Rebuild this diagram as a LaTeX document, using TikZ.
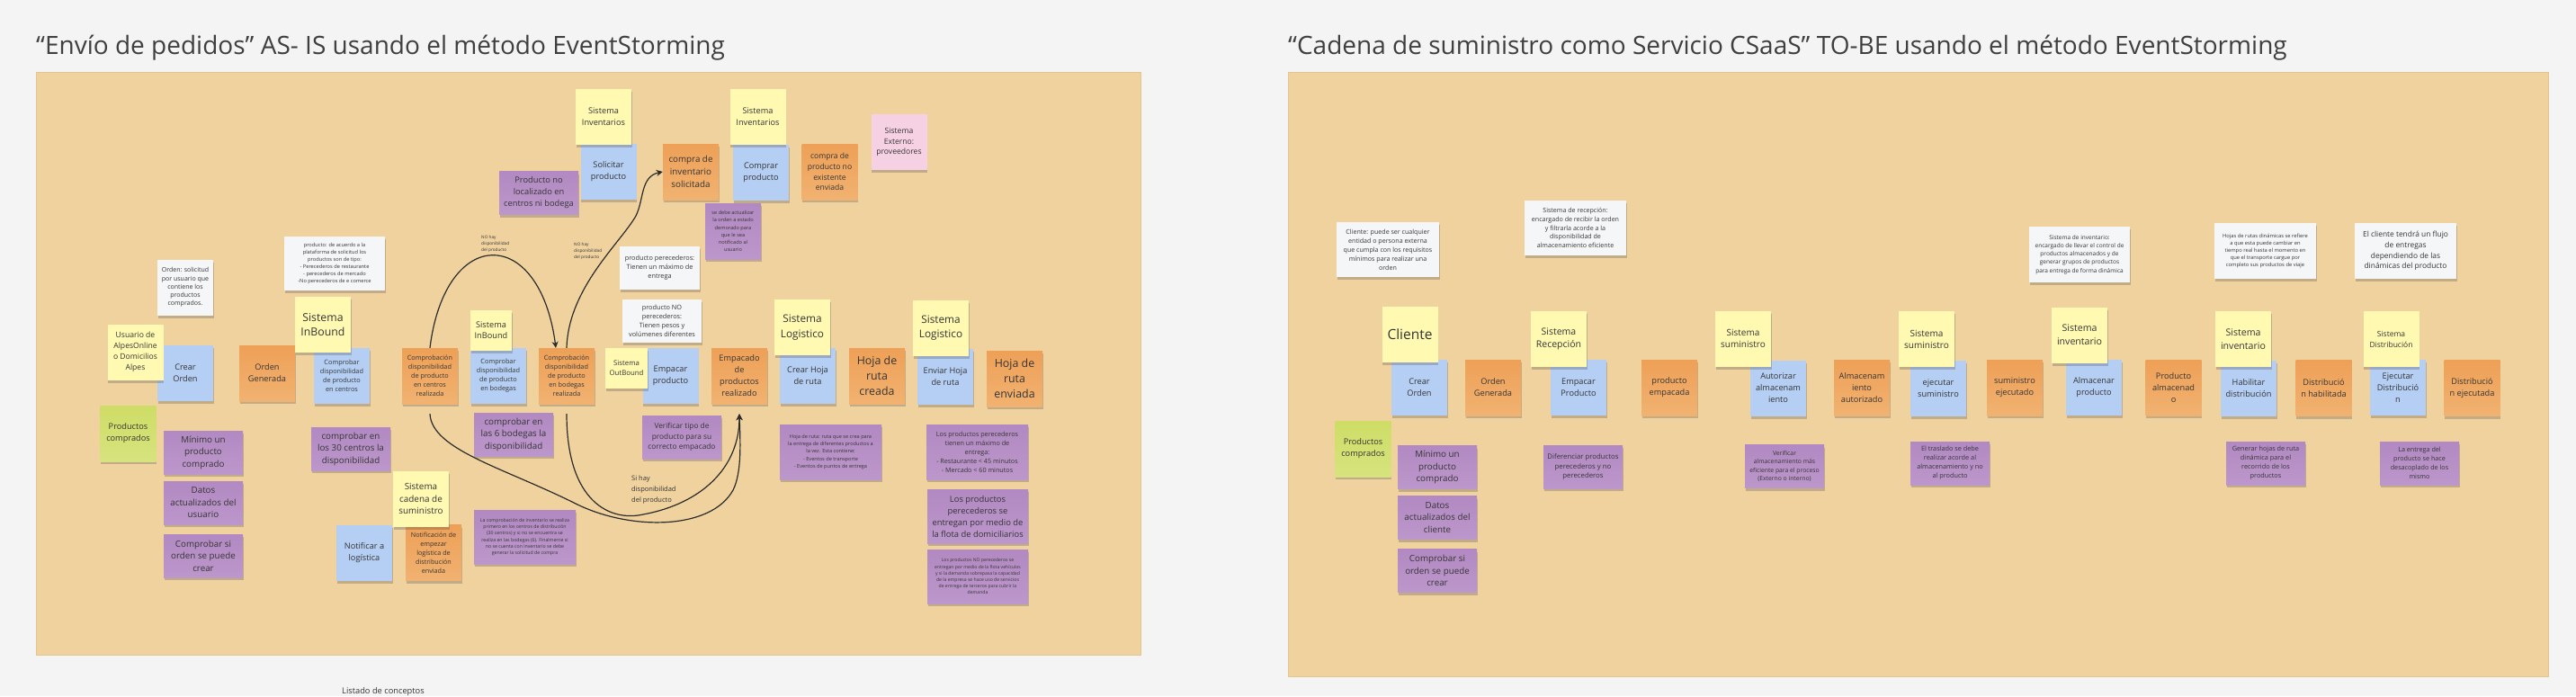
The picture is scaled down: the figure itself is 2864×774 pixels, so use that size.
\documentclass[tikz,border=0pt]{standalone}
\usepackage{fontspec}
\setmainfont{Open Sans}
\usetikzlibrary{arrows.meta,shadows}

\definecolor{cOuter}{HTML}{F4F4F4}
\definecolor{cPanel}{HTML}{F0D29F}
\definecolor{cPanelLine}{HTML}{E3C58F}
\definecolor{cYel}{HTML}{FFF9B2}
\definecolor{cBlu}{HTML}{B5CEF3}
\definecolor{cOraT}{HTML}{EEA057}
\definecolor{cOraB}{HTML}{F1B271}
\definecolor{cPurT}{HTML}{B289C2}
\definecolor{cPurB}{HTML}{BC97CB}
\definecolor{cGrnT}{HTML}{CEDD66}
\definecolor{cGrnB}{HTML}{D7E37E}
\definecolor{cWht}{HTML}{F5F6F8}
\definecolor{cPnk}{HTML}{F6D1E3}
\definecolor{cText}{HTML}{353535}
\definecolor{cTitle}{HTML}{3F3F3F}
\definecolor{cArrow}{HTML}{2B2B2B}

\newcommand{\fsz}[2]{\fontsize{#1}{#2}\selectfont}

\begin{document}
\begin{tikzpicture}
        [x=1pt, y=-1pt,
        note/.style={rectangle, inner sep=1pt, align=center, text=cText,
                minimum width=62pt, minimum height=62pt, font=\fsz{9.2}{13},
                drop shadow={shadow xshift=0.8pt, shadow yshift=-3pt, opacity=0.28, fill=black!70}},
        wide/.style={minimum width=88pt, minimum height=48pt},
        big/.style={minimum width=113pt, minimum height=61pt},
        yel/.style={fill=cYel},
        blu/.style={fill=cBlu},
        ora/.style={top color=cOraT, bottom color=cOraB},
        pur/.style={top color=cPurT, bottom color=cPurB},
        grn/.style={top color=cGrnT, bottom color=cGrnB},
        wht/.style={fill=cWht},
        pnk/.style={fill=cPnk},
        flowtxt/.style={align=left, anchor=north west, inner sep=0pt, text=cText},
        titletxt/.style={anchor=base west, inner sep=0pt, text=cTitle, font=\fsz{28}{34}},
        conn/.style={draw=cArrow, line width=1.2pt, -{Stealth[length=7pt,width=7pt]}}]
%
%% Board and panels
%%
\fill[cOuter] (0,0) rectangle (2864,774);
\useasboundingbox (0,0) rectangle (2864,774);
\filldraw[fill=cPanel, draw=cPanelLine] (40,80) rectangle (1268,728);
\filldraw[fill=cPanel, draw=cPanelLine] (1432,80) rectangle (2833,752);

\node[titletxt] (titleAsIs) at (40,60) {“Envío de pedidos” AS- IS usando el método EventStorming};
\node[titletxt] (titleToBe) at (1432,60) {“Cadena de suministro como Servicio CSaaS” TO-BE usando el método EventStorming};
\node[anchor=base west, inner sep=0pt, text=cText, font=\fsz{9.3}{12}] (listado) at (380,771) {Listado de conceptos};
%
%% AS-IS: white definitions
%%
\node[note,wht,font=\fsz{7}{9.3}] (ordenDef) at (206,319.5) {Orden: solicitud\\por usuario que\\contiene los\\productos\\comprados.};
\node[note,wht,big,minimum width=112pt,minimum height=60pt,font=\fsz{5.7}{8}] (prodDef) at (372,293) {producto:  de acuerdo a la\\plataforma de solicitud los\\productos son de tipo:\\- Perecederos de restaurante\\- perecederos de mercado\\-No perecederos de e comerce};
\node[note,wht,wide,minimum width=89pt,font=\fsz{7.3}{10}] (perecDef) at (733.5,298) {producto perecederos:\\Tienen un máximo de\\entrega};
\node[note,wht,wide,font=\fsz{7.3}{10}] (noPerecDef) at (736,357) {producto NO\\perecederos:\\Tienen pesos y\\volúmenes diferentes};
%
%% AS-IS: commands and events
%%
\node[note,blu] (crearOrden) at (206,415) {Crear\\Orden};
\node[note,ora] (ordenGen) at (297,415) {Orden\\Generada};
\node[note,blu,font=\fsz{7.3}{10}] (compCentros) at (380,418) {Comprobar\\disponibilidad\\de producto\\en centros};
\node[note,ora,font=\fsz{7.3}{10}] (cenReal) at (478,418) {Comprobación\\disponibilidad\\de producto\\en centros\\realizada};
\node[note,blu,font=\fsz{7.3}{10}] (compBodegas) at (554,418) {Comprobar\\disponibilidad\\de producto\\en bodegas};
\node[note,ora,font=\fsz{7.3}{10}] (bodReal) at (630,418) {Comprobación\\disponibilidad\\de producto\\en bodegas\\realizada};
\node[note,blu] (solicitar) at (676.5,191) {Solicitar\\producto};
\node[note,ora,font=\fsz{9.8}{14}] (compraInv) at (768,191) {compra de\\inventario\\solicitada};
\node[note,blu] (comprar) at (846,191.5) {Comprar\\producto};
\node[note,ora,font=\fsz{8.6}{11.8}] (compraEnv) at (922.5,191) {compra de\\producto no\\existente\\enviada};
\node[note,pnk,font=\fsz{8.6}{11.5}] (externo) at (999.5,158) {Sistema\\Externo:\\proveedores};
\node[note,blu] (empacar) at (745.5,418) {Empacar\\producto};
\node[note,ora] (empacado) at (822,418) {Empacado\\de\\productos\\realizado};
\node[note,blu] (crearHoja) at (898,418) {Crear Hoja\\de ruta};
\node[note,ora,font=\fsz{12.4}{17}] (hojaCreada) at (975,418) {Hoja de\\ruta\\creada};
\node[note,blu] (enviarHoja) at (1051,418.5) {Enviar Hoja\\de ruta};
\node[note,ora,font=\fsz{12.4}{17}] (hojaEnviada) at (1128,421) {Hoja de\\ruta\\enviada};
\node[note,blu] (notificar) at (405,614.5) {Notificar a\\logística};
\node[note,ora,font=\fsz{7.2}{10}] (notifEnv) at (482,614.5) {Notificación de\\empezar\\logística de\\distribución\\enviada};
%
%% AS-IS: actors and systems
%%
\node[note,yel,font=\fsz{8.6}{12}] (usuario) at (150.5,391.5) {Usuario de\\AlpesOnline\\o Domicilios\\Alpes};
\node[note,yel,font=\fsz{12.3}{16.7}] (inbound1) at (359,361) {Sistema\\InBound};
\node[note,yel,minimum width=46pt,minimum height=45pt,font=\fsz{9.2}{12}] (inbound2) at (546,367.5) {Sistema\\InBound};
\node[note,yel] (inventarios1) at (671,130) {Sistema\\Inventarios};
\node[note,yel] (inventarios2) at (842.5,130) {Sistema\\Inventarios};
\node[note,yel,minimum width=47pt,minimum height=45pt,font=\fsz{7.8}{11}] (outbound) at (696.5,409.5) {Sistema\\OutBound};
\node[note,yel,font=\fsz{11.8}{16.5}] (logistico1) at (892,364) {Sistema\\Logistico};
\node[note,yel,font=\fsz{11.8}{16.5}] (logistico2) at (1046,364.5) {Sistema\\Logistico};
\node[note,yel,font=\fsz{9.9}{13.3}] (cadena) at (468,554.5) {Sistema\\cadena de\\suministro};
%
%% AS-IS: aggregates and rules
%%
\node[note,grn] (prodComp) at (142.5,482) {Productos\\comprados};
\node[note,pur,wide,font=\fsz{9.8}{13.5}] (minimo) at (226,503) {Mínimo un\\producto\\comprado};
\node[note,pur,wide,font=\fsz{9.8}{13.5}] (datos) at (226,559) {Datos\\actualizados del\\usuario};
\node[note,pur,wide,font=\fsz{9.8}{13.5}] (compOrden) at (226,618) {Comprobar si\\orden se puede\\crear};
\node[note,pur,wide,font=\fsz{9.8}{13.5}] (treinta) at (390,499) {comprobar en\\los 30 centros la\\disponibilidad};
\node[note,pur,wide,font=\fsz{9.8}{13.5}] (seis) at (571,483) {comprobar en\\las 6 bodegas la\\disponibilidad};
\node[note,pur,wide,font=\fsz{9.3}{13}] (noLocal) at (599,214.5) {Producto no\\localizado en\\centros ni bodega};
\node[note,pur,font=\fsz{5.6}{8.1}] (demorado) at (815,257) {se debe actualizar\\la orden  a estado\\demorado para\\que le sea\\notificado al\\usuario};
\node[note,pur,wide,font=\fsz{8.3}{11.5}] (verificar) at (758,486) {Verificar tipo de\\producto para su\\correcto empacado};
\node[note,pur,big,minimum height=60pt,font=\fsz{5.2}{7.3}] (inventNota) at (583.5,597) {La comprobación de inventario se realiza\\primero en los centros de distribución\\(30 centros)  y si no se encuentra se\\realiza en las bodegas (6). Finalmente si\\no se cuenta con inventario se debe\\generar la solicitud de compra};
\node[note,pur,big,font=\fsz{5.6}{8.3}] (hojaDef) at (923.5,502.5) {Hoja de ruta: ruta que se crea para\\la entrega de diferentes productos a\\la vez. Esta contiene:\\- Eventos de transporte\\- Eventos de puntos de entrega};
\node[note,pur,big,font=\fsz{7.2}{10}] (maxEntrega) at (1086.5,502.5) {Los productos perecederos\\tienen un máximo de\\entrega:\\- Restaurante < 45 minutos\\- Mercado < 60 minutos};
\node[note,pur,big,minimum width=112pt,minimum height=60pt,font=\fsz{9.4}{13}] (flotaDom) at (1087,574) {Los productos\\perecederos se\\entregan por medio de\\la flota de domiciliarios};
\node[note,pur,big,minimum width=112pt,minimum height=60pt,font=\fsz{5.1}{7.2}] (flotaVeh) at (1087,641) {Los productos NO perecederos se\\entregan por medio de la flota vehículos\\y si la demanda sobrepasa la capacidad\\de la empresa se hace uso de servicios\\de entrega de terceros para cubrir la\\demanda};
%
%% AS-IS: flow between the checks
%%
\draw[conn] (cenReal.north) .. controls (495,250) and (600,250) .. ([xshift=-12pt]bodReal.north);
\draw[conn] (bodReal.north) .. controls (632,320) and (690,270) .. (707,240) .. controls (716,222) and (712,196) .. (compraInv.west);
\draw[conn] ([yshift=-11pt]cenReal.south) .. controls (480,500) and (560,520) .. (640,560) .. controls (700,590) and (790,590) .. (815,545) .. controls (825,525) and (823,490) .. ([yshift=-11pt]empacado.south);
\draw[conn] ([yshift=-11pt]bodReal.south) .. controls (630,560) and (680,580) .. (715,572) .. controls (780,560) and (822,520) .. ([yshift=-11pt]empacado.south);

\node[flowtxt,font=\fsz{4.7}{7}] (noHay1) at (535,262) {NO hay\\disponibilidad\\del producto};
\node[flowtxt,font=\fsz{4.7}{7}] (noHay2) at (638,270) {NO hay\\disponibilidad\\del producto};
\node[flowtxt,font=\fsz{7.5}{12}] (siHay) at (702,529) {Si hay\\disponibilidad\\del producto};
%
%% TO-BE: white definitions
%%
\node[note,wht,big,minimum width=114pt,font=\fsz{7.1}{10}] (clienteDef) at (1543,277.5) {Cliente: puede ser cualquier\\entidad o persona externa\\que cumpla con los requisitos\\mínimos para realizar una\\orden};
\node[note,wht,big,font=\fsz{7.1}{9.8}] (recepDef) at (1751.5,253.5) {Sistema de recepción:\\encargado de recibir la orden\\y filtrarla acorde a la\\disponibilidad de\\almacenamiento eficiente};
\node[note,wht,big,minimum width=112pt,minimum height=62pt,font=\fsz{6.5}{9.2}] (inventDef) at (2312,283) {Sistema de inventario:\\encargado de llevar el control de\\productos almacenados y de\\generar grupos de productos\\para entrega de forma dinámica};
\node[note,wht,big,minimum height=62pt,font=\fsz{5.8}{8.2}] (rutasDef) at (2518.5,279) {Hojas de rutas dinámicas se refiere\\a que esta puede cambiar en\\tiempo real hasta el momento en\\que el transporte cargue por\\completo sus productos de viaje};
\node[note,wht,big,minimum height=62pt,font=\fsz{8.4}{11.7}] (flujoDef) at (2674.5,279) {El cliente tendrá un flujo\\de entregas\\dependiendo de las\\dinámicas del producto};
%
%% TO-BE: commands and events
%%
\node[note,blu] (crearOrdenB) at (1578,431) {Crear\\Orden};
\node[note,ora] (ordenGenB) at (1660,431) {Orden\\Generada};
\node[note,blu] (empacarB) at (1755,431) {Empacar\\Producto};
\node[note,ora] (empacadaB) at (1856,431) {producto\\empacada};
\node[note,blu] (autorizar) at (1977,431.5) {Autorizar\\almacenam\\iento};
\node[note,ora] (autorizado) at (2070,431) {Almacenam\\iento\\autorizado};
\node[note,blu] (ejecutar) at (2155,431.5) {ejecutar\\suministro};
\node[note,ora] (ejecutado) at (2240,431) {suministro\\ejecutado};
\node[note,blu] (almacenar) at (2328,431) {Almacenar\\producto};
\node[note,ora] (almacenado) at (2416.5,431) {Producto\\almacenad\\o};
\node[note,blu] (habilitar) at (2500,432) {Habilitar\\distribución};
\node[note,ora] (habilitada) at (2583.5,431.5) {Distribució\\n habilitada};
\node[note,blu] (ejecDist) at (2666,431) {Ejecutar\\Distribució\\n};
\node[note,ora] (ejecutada) at (2748.5,431.5) {Distribució\\n ejecutada};
%
%% TO-BE: actors and systems
%%
\node[note,yel,font=\fsz{15.5}{20}] (cliente) at (1567.5,372) {Cliente};
\node[note,yel,font=\fsz{10.5}{14.5}] (recepcion) at (1733,377) {Sistema\\Recepción};
\node[note,yel,font=\fsz{10}{13}] (suministro1) at (1938,376.5) {Sistema\\suministro};
\node[note,yel,font=\fsz{10}{13}] (suministro2) at (2142,377) {Sistema\\suministro};
\node[note,yel,font=\fsz{10.6}{15}] (inventario1) at (2312,372.5) {Sistema\\inventario};
\node[note,yel,font=\fsz{10.6}{15}] (inventario2) at (2494,377) {Sistema\\inventario};
\node[note,yel,font=\fsz{8.5}{12}] (distribucion) at (2658.5,377) {Sistema\\Distribución};
%
%% TO-BE: aggregates and rules
%%
\node[note,grn] (prodCompB) at (1515.5,499) {Productos\\comprados};
\node[note,pur,wide,font=\fsz{9.8}{13.5}] (minimoB) at (1598,519.5) {Mínimo un\\producto\\comprado};
\node[note,pur,wide,font=\fsz{9.8}{13.5}] (datosB) at (1598,575.5) {Datos\\actualizados del\\cliente};
\node[note,pur,wide,font=\fsz{9.8}{13.5}] (compOrdenB) at (1598,634.5) {Comprobar si\\orden se puede\\crear};
\node[note,pur,wide,font=\fsz{7.8}{10.7}] (diferenciar) at (1760,519) {Diferenciar productos\\perecederos y no\\perecederos};
\node[note,pur,wide,font=\fsz{6.8}{9.3}] (verifAlm) at (1984,518.5) {Verificar\\almacenamiento más\\eficiente para el proceso\\(Externo o interno)};
\node[note,pur,wide,font=\fsz{7.3}{10}] (traslado) at (2168,515) {El traslado se debe\\realizar acorde al\\almacenamiento y no\\al producto};
\node[note,pur,wide,font=\fsz{7.3}{10}] (generar) at (2519,515) {Generar hojas de ruta\\dinámica para el\\recorrido de los\\productos};
\node[note,pur,wide,font=\fsz{7.2}{10}] (entrega) at (2690,515) {La entrega del\\producto se hace\\desacoplado de los\\mismo};

\end{tikzpicture}
\end{document}
